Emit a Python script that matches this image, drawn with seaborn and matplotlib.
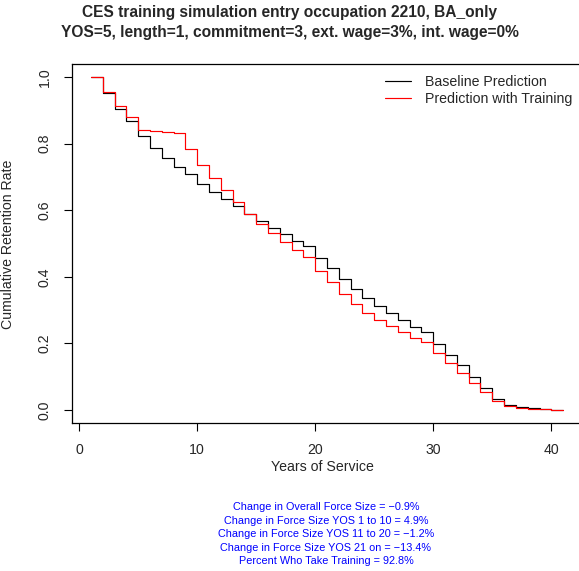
import pandas as pd
import matplotlib
matplotlib.use("Agg")
import matplotlib.pyplot as plt
import seaborn as sns

# years of service 1..41
years = list(range(1, 42))

baseline = [1.000, 0.951, 0.904, 0.868, 0.824, 0.788, 0.758, 0.731, 0.708, 0.680,
            0.654, 0.634, 0.612, 0.590, 0.567, 0.548, 0.528, 0.508, 0.492, 0.457,
            0.426, 0.392, 0.363, 0.335, 0.312, 0.290, 0.269, 0.250, 0.234, 0.199,
            0.166, 0.135, 0.099, 0.065, 0.034, 0.016, 0.010, 0.006, 0.003, 0.001,
            0.001]

training = [1.000, 0.954, 0.912, 0.880, 0.841, 0.838, 0.835, 0.831, 0.783, 0.736,
            0.696, 0.660, 0.625, 0.590, 0.559, 0.531, 0.504, 0.480, 0.459, 0.417,
            0.383, 0.347, 0.317, 0.292, 0.270, 0.251, 0.233, 0.216, 0.204, 0.170,
            0.141, 0.112, 0.081, 0.053, 0.026, 0.011, 0.007, 0.004, 0.002, 0.001,
            0.001]

series_names = ["Baseline Prediction", "Prediction with Training"]
series_colors = ["black", "red"]

title_lines = ["CES training simulation entry occupation 2210, BA_only",
               "YOS=5, length=1, commitment=3, ext. wage=3%, int. wage=0%"]

summary_lines = ["Change in Overall Force Size = \u22120.9%",
                 "Change in Force Size YOS 1 to 10 = 4.9%",
                 "Change in Force Size YOS 11 to 20 = \u22121.2%",
                 "Change in Force Size YOS 21 on = \u221213.4%",
                 "Percent Who Take Training = 92.8%"]

x_ticks = [0, 10, 20, 30, 40]
y_ticks = [0.0, 0.2, 0.4, 0.6, 0.8, 1.0]

df = pd.DataFrame({
    "yos": years * 2,
    "rate": baseline + training,
    "series": [series_names[0]] * len(years) + [series_names[1]] * len(years),
})

sns.set_style("white")
plt.rcParams["font.family"] = ["Liberation Sans", "DejaVu Sans"]

FS = 10.2  # base font size

fig = plt.figure(figsize=(5.79, 5.71), dpi=100)
W, H = 579, 571
# plot box in pixels: left 72, right 582, top 63.7, bottom 423.3
ax = fig.add_axes([72 / W, 1 - 423.3 / H, (582 - 72) / W, (423.3 - 63.7) / H])

sns.lineplot(data=df, x="yos", y="rate", hue="series", palette=series_colors,
             drawstyle="steps-post", linewidth=0.85, ax=ax, legend=True)

ax.set_xlim(-0.6, 42.6)
ax.set_ylim(-0.04, 1.04)
ax.set_xticks(x_ticks)
ax.set_xticklabels([str(t) for t in x_ticks])
ax.set_yticks(y_ticks)
ax.set_yticklabels([f"{t:.1f}" for t in y_ticks], rotation=90, va="center")
ax.tick_params(axis="both", direction="out", length=6, width=0.8, color="black",
               labelsize=FS, pad=8.5, left=True, bottom=True)
for sp in ax.spines.values():
    sp.set_color("black")
    sp.set_linewidth(0.9)
ax.set_xlabel("")
ax.set_ylabel("")

leg = ax.legend(frameon=False, loc="upper left", bbox_to_anchor=(385 / W, 1 - 75 / H),
                bbox_transform=fig.transFigure, borderpad=0, borderaxespad=0,
                handlelength=1.8, handletextpad=1.05, labelspacing=0.18, fontsize=FS)
for line in leg.get_lines():
    line.set_linewidth(0.85)

fig.text(322 / W, 1 - 467 / H, "Years of Service", ha="center", va="center", fontsize=FS)
fig.text(8 / W, 1 - 244 / H, "Cumulative Retention Rate", ha="center", va="center",
         rotation=90, fontsize=FS)

for i, t in enumerate(title_lines):
    fig.text(290 / W, 1 - (12 + 20.5 * i) / H, t, ha="center", va="center",
             fontsize=11.2, fontweight="bold")

for i, t in enumerate(summary_lines):
    fig.text(326 / W, 1 - (507.5 + 13.4 * i) / H, t, ha="center", va="center",
             fontsize=7.8, color="blue")

fig.savefig("out.png", dpi=100)
